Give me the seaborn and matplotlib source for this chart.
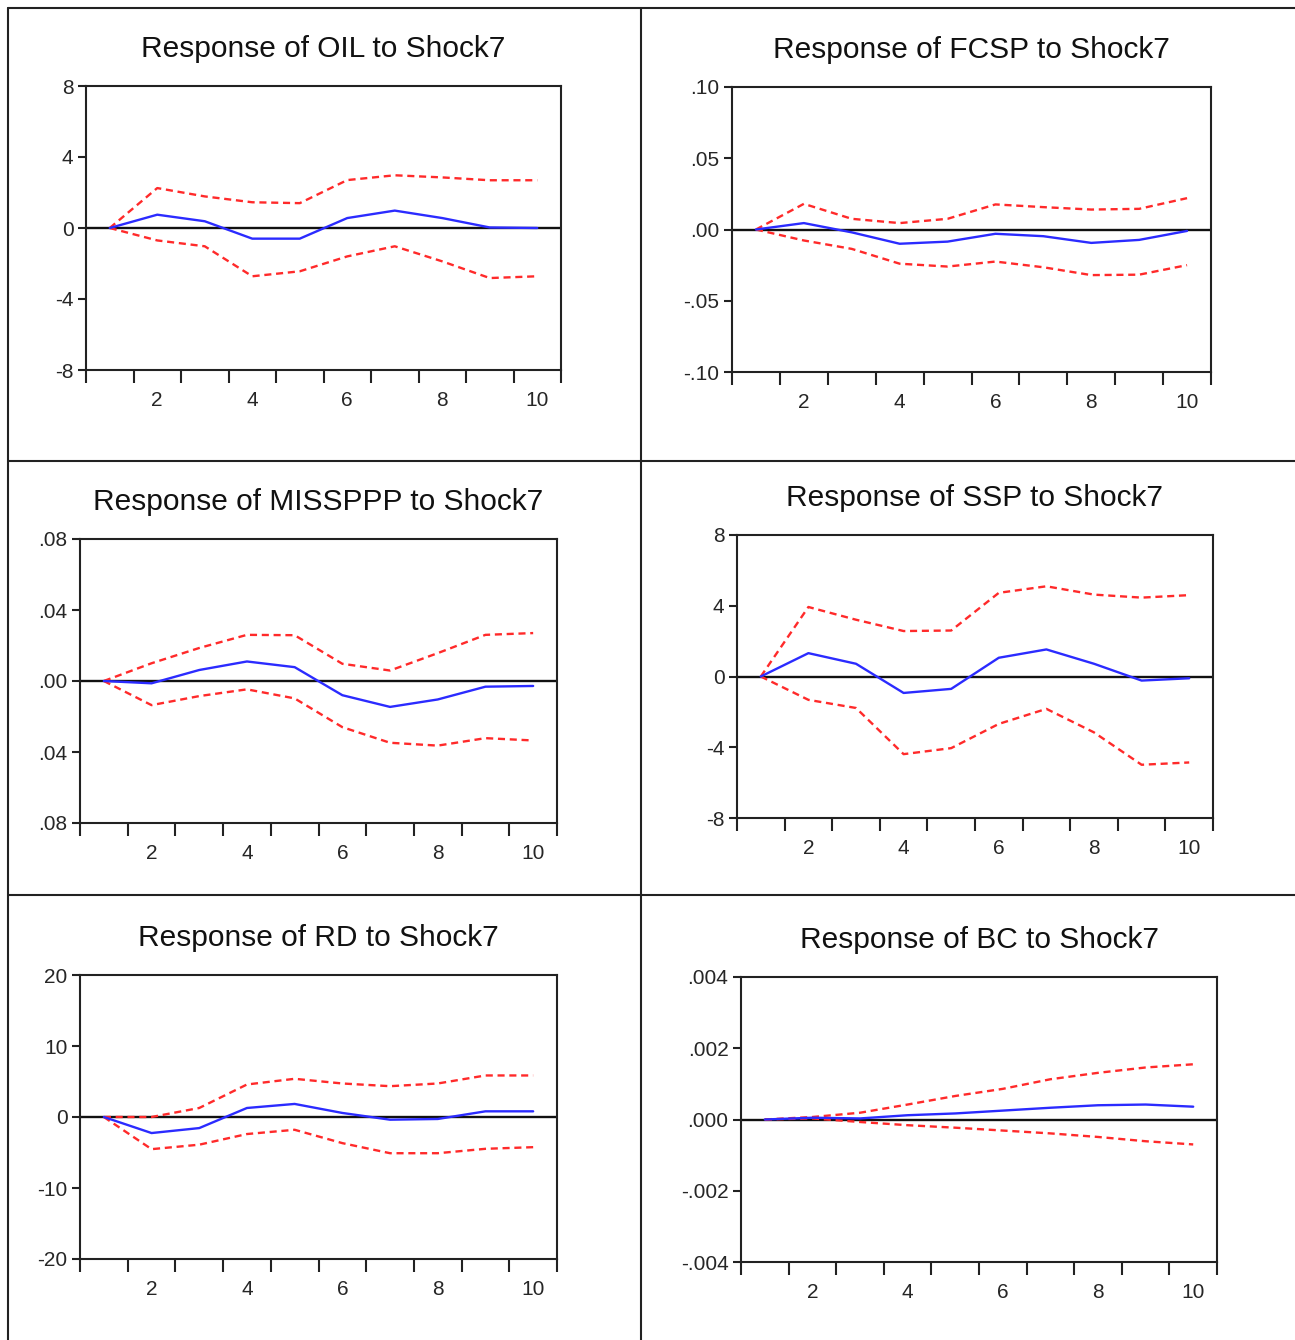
import numpy as np
import pandas as pd
import matplotlib
matplotlib.use('Agg')
import matplotlib.pyplot as plt
from matplotlib.lines import Line2D
import seaborn as sns

sns.set_style('ticks')
plt.rcParams['font.family'] = ['Liberation Sans', 'DejaVu Sans']

periods = list(range(1, 11))

# impulse responses with +/- 2 S.E. bands
oil_irf = [0, 0.75, 0.38, -0.6, -0.6, 0.56, 0.98, 0.56, 0.03, 0.0]
oil_hi = [0, 2.25, 1.78, 1.45, 1.4, 2.7, 2.97, 2.85, 2.69, 2.69]
oil_lo = [0, -0.7, -1.03, -2.72, -2.44, -1.6, -1.03, -1.88, -2.82, -2.72]

fcsp_irf = [0, 0.0045, -0.002, -0.010, -0.0085, -0.003, -0.0047, -0.0094, -0.0073, -0.001]
fcsp_hi = [0, 0.018, 0.0075, 0.0045, 0.0075, 0.0176, 0.0157, 0.014, 0.0145, 0.022]
fcsp_lo = [0, -0.0077, -0.0136, -0.024, -0.026, -0.0225, -0.0265, -0.032, -0.0317, -0.025]

miss_irf = [0, -0.0013, 0.0062, 0.011, 0.0078, -0.008, -0.0146, -0.0104, -0.0032, -0.0028]
miss_hi = [0, 0.010, 0.0186, 0.026, 0.0258, 0.0097, 0.0059, 0.0157, 0.026, 0.027]
miss_lo = [0, -0.0136, -0.0085, -0.0047, -0.0098, -0.026, -0.0348, -0.0364, -0.0322, -0.0335]

ssp_irf = [0, 1.32, 0.72, -0.93, -0.7, 1.06, 1.53, 0.72, -0.23, -0.1]
ssp_hi = [0, 3.93, 3.21, 2.57, 2.6, 4.73, 5.1, 4.63, 4.46, 4.6]
ssp_lo = [0, -1.32, -1.78, -4.39, -4.05, -2.68, -1.83, -3.16, -4.99, -4.86]

rd_irf = [0, -2.26, -1.56, 1.27, 1.84, 0.57, -0.38, -0.28, 0.8, 0.8]
rd_hi = [0, 0.0, 1.27, 4.58, 5.38, 4.72, 4.34, 4.72, 5.85, 5.85]
rd_lo = [0, -4.53, -3.9, -2.4, -1.8, -3.68, -5.1, -5.1, -4.48, -4.25]

bc_irf = [0, 0.00005, 0.00003, 0.00012, 0.00017, 0.00025, 0.00033, 0.0004, 0.00042, 0.00036]
bc_hi = [0, 0.00007, 0.00019, 0.00042, 0.00066, 0.00086, 0.00113, 0.00131, 0.00146, 0.00155]
bc_lo = [0, 0.00003, -0.00007, -0.00016, -0.00023, -0.00031, -0.00039, -0.00049, -0.00061, -0.0007]

oil_ticks = [-8, -4, 0, 4, 8]
oil_labels = ['-8', '-4', '0', '4', '8']
fcsp_ticks = [-0.10, -0.05, 0.0, 0.05, 0.10]
fcsp_labels = ['-.10', '-.05', '.00', '.05', '.10']
miss_ticks = [-0.08, -0.04, 0.0, 0.04, 0.08]
miss_labels = ['.08', '.04', '.00', '.04', '.08']
ssp_ticks = [-8, -4, 0, 4, 8]
ssp_labels = ['-8', '-4', '0', '4', '8']
rd_ticks = [-20, -10, 0, 10, 20]
rd_labels = ['-20', '-10', '0', '10', '20']
bc_ticks = [-0.004, -0.002, 0.0, 0.002, 0.004]
bc_labels = ['-.004', '-.002', '.000', '.002', '.004']

W, H = 1295, 1340

def rect(l, r, t, b):
    return [l / W, 1 - b / H, (r - l) / W, (b - t) / H]

panels = [
    ('OIL', oil_irf, oil_hi, oil_lo, oil_ticks, oil_labels, rect(86, 561, 86, 370)),
    ('FCSP', fcsp_irf, fcsp_hi, fcsp_lo, fcsp_ticks, fcsp_labels, rect(732, 1211, 87, 372)),
    ('MISSPPP', miss_irf, miss_hi, miss_lo, miss_ticks, miss_labels, rect(80, 557, 539, 823)),
    ('SSP', ssp_irf, ssp_hi, ssp_lo, ssp_ticks, ssp_labels, rect(737, 1213, 535, 818)),
    ('RD', rd_irf, rd_hi, rd_lo, rd_ticks, rd_labels, rect(80, 557, 975, 1259)),
    ('BC', bc_irf, bc_hi, bc_lo, bc_ticks, bc_labels, rect(741, 1217, 977, 1262)),
]

fig = plt.figure(figsize=(W / 100, H / 100), dpi=100)

for name, irf, hi, lo, yt, yl, pos in panels:
    ax = fig.add_axes(pos)
    df = pd.DataFrame({'period': periods * 3,
                       'value': irf + hi + lo,
                       'series': ['irf'] * 10 + ['hi'] * 10 + ['lo'] * 10})
    ax.axhline(0, color='#111111', lw=1.7, zorder=1)
    sns.lineplot(data=df[df['series'] == 'irf'], x='period', y='value',
                 color='#2b2bff', lw=1.7, ax=ax, zorder=3)
    for s in ['hi', 'lo']:
        sns.lineplot(data=df[df['series'] == s], x='period', y='value',
                     color='#ff2a2a', lw=1.7, dashes=False, ax=ax, zorder=2,
                     linestyle=(0, (3, 2)))
    ax.set_xlim(0.5, 10.5)
    ax.set_ylim(yt[0], yt[-1])
    ax.set_yticks(yt)
    ax.set_yticklabels(yl, fontsize=15)
    ax.set_xticks(np.arange(0.5, 11, 1))
    ax.set_xticklabels([])
    ax.set_xticks([2, 4, 6, 8, 10], minor=True)
    ax.set_xticklabels(['2', '4', '6', '8', '10'], minor=True, fontsize=15)
    ax.tick_params(axis='x', which='major', direction='out', length=9, width=1.5, color='#222222')
    ax.tick_params(axis='x', which='minor', length=0, pad=15)
    ax.tick_params(axis='y', direction='out', length=6, width=1.5, color='#222222', pad=3)
    ax.set_xlabel('')
    ax.set_ylabel('')
    for sp in ax.spines.values():
        sp.set_linewidth(1.5)
        sp.set_color('#222222')
    ax.set_title(f'Response of {name} to Shock7', fontsize=21.5, pad=21, color='#111111')

# table-like cell borders around the panels
lines = [
    ([8 / W, 1.0], [1 - 8 / H, 1 - 8 / H]),
    ([8 / W, 8 / W], [0.0, 1 - 8 / H]),
    ([641 / W, 641 / W], [0.0, 1 - 8 / H]),
    ([8 / W, 1.0], [1 - 461 / H, 1 - 461 / H]),
    ([8 / W, 1.0], [1 - 895 / H, 1 - 895 / H]),
]
for xs, ys in lines:
    fig.add_artist(Line2D(xs, ys, color='#222222', lw=1.5, transform=fig.transFigure))

fig.savefig('out.png', dpi=100)
